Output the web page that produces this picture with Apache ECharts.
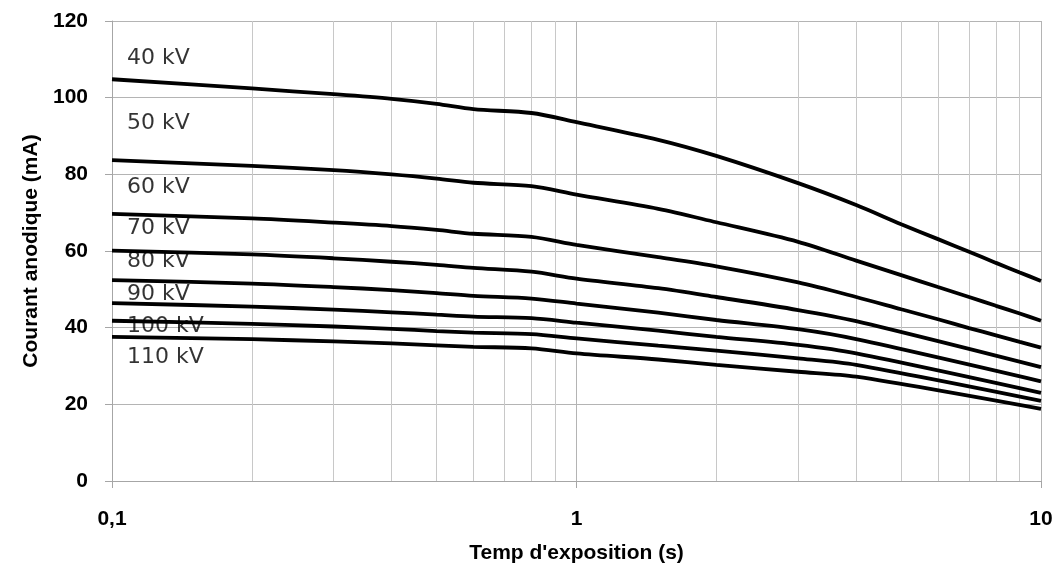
<!DOCTYPE html>
<html>
<head>
<meta charset="utf-8">
<script src="https://cdn.jsdelivr.net/npm/echarts@6/dist/echarts.min.js"></script>
<style>
html,body{margin:0;padding:0;background:#fff;}
#chart{width:1059px;height:572px;}
</style>
</head>
<body>
<div id="chart"></div>
<script>
// Exposure times (s)
var times = [0.1, 0.2, 0.3, 0.4, 0.5, 0.6, 0.8, 1, 1.5, 2, 3, 4, 5, 6, 7, 8, 9, 10];
// Series names
var seriesNames = ['40 kV', '50 kV', '60 kV', '70 kV', '80 kV', '90 kV', '100 kV', '110 kV'];
// Anode current (mA) per tube voltage
var kv40  = [104.8, 102.4, 100.9, 99.7, 98.4, 97.0, 96.0, 93.6, 89.0, 84.8, 77.7, 72.0, 67.0, 63.1, 59.8, 56.9, 54.4, 52.2];
var kv50  = [83.7, 82.2, 81.1, 80.0, 78.9, 77.8, 76.9, 74.7, 71.0, 67.5, 62.4, 57.5, 53.7, 50.6, 48.0, 45.7, 43.7, 41.8];
var kv60  = [69.7, 68.5, 67.4, 66.5, 65.5, 64.5, 63.7, 61.6, 58.4, 56.0, 51.8, 48.0, 44.8, 42.2, 39.9, 38.0, 36.3, 34.8];
var kv70  = [60.1, 59.1, 58.1, 57.2, 56.4, 55.6, 54.6, 52.8, 50.3, 48.0, 44.6, 41.7, null, null, null, null, null, 29.7];
var kv80  = [52.4, 51.5, 50.6, 49.8, 49.0, 48.3, 47.6, 46.3, 43.9, 42.0, 39.6, 37.0, null, null, null, null, null, 26.0];
var kv90  = [46.4, 45.5, 44.7, 44.0, 43.4, 42.9, 42.5, 41.3, 39.2, 37.6, 35.5, 33.3, null, null, null, null, null, 23.0];
var kv100 = [41.8, 41.0, 40.3, 39.7, 39.1, 38.7, 38.3, 37.2, 35.3, 34.0, 32.0, 30.3, null, null, null, null, null, 20.9];
var kv110 = [37.6, 37.0, 36.4, 35.9, 35.4, 35.0, 34.6, 33.3, 31.7, 30.3, 28.5, 27.2, null, null, null, null, null, 18.8];
// Label anchor heights (mA) for the curve names at the left edge
var labelY = [110.4, 93.4, 76.7, 66.0, 57.4, 48.8, 40.4, 32.3];
// Minor vertical grid values on log axis
var minorTicks = [0.2, 0.3, 0.4, 0.5, 0.6, 0.7, 0.8, 0.9, 2, 3, 4, 5, 6, 7, 8, 9];
// Y ticks
var yMin = 0, yMax = 120, yStep = 20;

var allData = [kv40, kv50, kv60, kv70, kv80, kv90, kv100, kv110];

var chart = echarts.init(document.getElementById('chart'), null, {renderer: 'canvas'});

var series = allData.map(function (arr, i) {
  return {
    name: seriesNames[i],
    type: 'line',
    data: times.map(function (t, j) { return arr[j] == null ? null : [t, arr[j]]; }).filter(function (d) { return d !== null; }),
    smooth: 0.3,
    showSymbol: false,
    symbol: 'none',
    lineStyle: {color: '#000', width: 3.8},
    z: 5,
    silent: true
  };
});

series.push({
  type: 'line',
  data: [],
  silent: true,
  markLine: {
    silent: true,
    symbol: ['none', 'none'],
    label: {show: false},
    lineStyle: {color: '#c8c8c8', width: 1, type: 'solid'},
    data: minorTicks.map(function (v) { return {xAxis: v}; })
  },
  z: 1
});

series.push({
  type: 'scatter',
  data: labelY.map(function (y, i) { return {value: [0.1, y], name: seriesNames[i]}; }),
  symbolSize: 0,
  silent: true,
  z: 10,
  label: {
    show: true,
    position: 'right',
    distance: 15,
    formatter: function (p) { return p.name; },
    color: '#000',
    fontFamily: 'DejaVu Sans',
    fontSize: 22
  }
});

chart.setOption({
  animation: false,
  backgroundColor: '#fff',
  grid: {left: 112, right: 18, top: 21, bottom: 91, containLabel: false},
  xAxis: {
    type: 'log',
    logBase: 10,
    min: 0.1,
    max: 10,
    name: "Temp d'exposition (s)",
    nameLocation: 'middle',
    nameGap: 62,
    nameTextStyle: {fontFamily: 'Liberation Sans', fontWeight: 'bold', fontSize: 21, color: '#000'},
    axisLine: {show: true, lineStyle: {color: '#a6a6a6', width: 1}},
    axisTick: {show: true, length: 7, lineStyle: {color: '#a6a6a6'}},
    axisLabel: {
      margin: 28,
      fontFamily: 'Liberation Sans', fontWeight: 'bold', fontSize: 21, color: '#000',
      formatter: function (v) { return String(v).replace('.', ','); }
    },
    splitLine: {show: true, lineStyle: {color: '#b4b4b4', width: 1}}
  },
  yAxis: {
    type: 'value',
    min: yMin,
    max: yMax,
    interval: yStep,
    name: 'Courant anodique (mA)',
    nameLocation: 'middle',
    nameGap: 70,
    nameRotate: 90,
    nameTextStyle: {fontFamily: 'Liberation Sans', fontWeight: 'bold', fontSize: 21, color: '#000'},
    axisLine: {show: true, lineStyle: {color: '#a6a6a6', width: 1}},
    axisTick: {show: true, length: 7, lineStyle: {color: '#a6a6a6'}},
    axisLabel: {margin: 24, fontFamily: 'Liberation Sans', fontWeight: 'bold', fontSize: 21, color: '#000'},
    splitLine: {show: true, lineStyle: {color: '#b4b4b4', width: 1}}
  },
  series: series
});
</script>
</body>
</html>
